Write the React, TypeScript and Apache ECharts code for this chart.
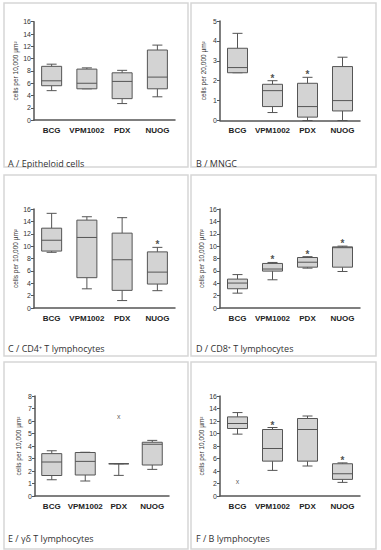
import React, { useEffect, useRef } from 'react';
import * as echarts from 'echarts';

const categories = ['BCG', 'VPM1002', 'PDX', 'NUOG'];

// each row: [min, Q1, median, Q3, max]
const epitheloid = [
  [4.8, 5.6, 6.4, 8.75, 9.1],
  [5.1, 5.1, 6.0, 8.3, 8.5],
  [2.7, 3.5, 6.3, 7.7, 8.1],
  [3.8, 5.1, 7.0, 11.4, 12.2],
];
const mngc = [
  [2.4, 2.4, 2.66, 3.63, 4.38],
  [0.4, 0.7, 1.5, 1.82, 2.0],
  [0, 0.17, 0.7, 1.87, 2.17],
  [0, 0.48, 1.0, 2.71, 3.18],
];
const cd4 = [
  [9.0, 9.2, 10.95, 12.9, 15.3],
  [3.1, 4.9, 11.4, 14.2, 14.75],
  [1.2, 2.85, 7.8, 12.1, 14.6],
  [2.8, 3.87, 5.8, 9.07, 9.8],
];
const cd8 = [
  [2.4, 3.11, 4.03, 4.67, 5.4],
  [4.56, 5.96, 6.3, 7.2, 7.36],
  [6.44, 6.6, 7.4, 8.16, 8.3],
  [5.9, 6.6, 9.75, 9.88, 10.0],
];
const gammaDelta = [
  [1.3, 1.64, 2.72, 3.39, 3.62],
  [1.2, 1.68, 2.77, 3.48, 3.5],
  [1.65, 2.58, 2.58, 2.58, 2.58],
  [2.13, 2.48, 4.14, 4.3, 4.45],
];
const bCells = [
  [9.9, 10.8, 11.6, 12.66, 13.35],
  [4.1, 5.58, 7.6, 10.64, 10.96],
  [4.8, 5.58, 10.64, 12.4, 12.8],
  [2.18, 2.66, 3.56, 5.16, 5.3],
];

const gammaDeltaOutliers: [string, number][] = [['PDX', 6.35]];
const bCellOutliers: [string, number][] = [['BCG', 2.3]];

const sigA: string[] = [];
const sigB = ['VPM1002', 'PDX'];
const sigC = ['NUOG'];
const sigD = ['VPM1002', 'PDX', 'NUOG'];
const sigE: string[] = [];
const sigF = ['VPM1002', 'NUOG'];

const titles = [
  'A / Epitheloid cells',
  'B / MNGC',
  'C / CD4\u207a T lymphocytes',
  'D / CD8\u207a T lymphocytes',
  'E / \u03b3\u03b4 T lymphocytes',
  'F / B lymphocytes',
];
const yNames = [
  'cells per 10,000 \u00b5m\u00b2',
  'cells per 20,000 \u00b5m\u00b2',
  'cells per 10,000 \u00b5m\u00b2',
  'cells per 10,000 \u00b5m\u00b2',
  'cells per 10,000 \u00b5m\u00b2',
  'cells per 10,000 \u00b5m\u00b2',
];
const yMax = [16, 5, 16, 16, 8, 16];
const yInterval = [2, 1, 2, 2, 1, 2];

const panelData = [epitheloid, mngc, cd4, cd8, gammaDelta, bCells];
const panelSig = [sigA, sigB, sigC, sigD, sigE, sigF];
const panelOutliers: [string, number][][] = [[], [], [], [], gammaDeltaOutliers, bCellOutliers];

// layout (pixels)
const panelRects = [
  [4, 3, 184, 164],
  [191, 3, 185, 164],
  [4, 175, 184, 181],
  [191, 175, 185, 181],
  [4, 362, 184, 187],
  [191, 362, 185, 187],
];
const grids = [
  { left: 34, top: 21.7, width: 141, height: 98.5 },
  { left: 220, top: 21, width: 140, height: 99.5 },
  { left: 34, top: 209, width: 141, height: 99 },
  { left: 220, top: 209, width: 140, height: 99 },
  { left: 35, top: 396, width: 134, height: 100 },
  { left: 220, top: 396, width: 140, height: 100 },
];
const titlePos = [
  [8, 163],
  [196, 163],
  [8, 348],
  [196, 348],
  [8, 538],
  [196, 538],
];

const STROKE = '#555555';
const FILL = '#d3d3d3';
const BOX_W = 20;
const FONT = 'Liberation Sans, Arial, sans-serif';

function renderBox(params: any, api: any) {
  const idx = api.value(0);
  const pts = [1, 2, 3, 4, 5].map((i) => api.coord([idx, api.value(i)]));
  const cx = pts[0][0];
  const lo = pts[0][1], q1 = pts[1][1], md = pts[2][1], q3 = pts[3][1], hi = pts[4][1];
  const half = BOX_W / 2;
  const cap = BOX_W / 4;
  const s = { stroke: STROKE, lineWidth: 1, fill: null };
  return {
    type: 'group',
    children: [
      { type: 'line', shape: { x1: cx, y1: q3, x2: cx, y2: hi }, style: s },
      { type: 'line', shape: { x1: cx, y1: q1, x2: cx, y2: lo }, style: s },
      { type: 'line', shape: { x1: cx - cap, y1: hi, x2: cx + cap, y2: hi }, style: s },
      { type: 'line', shape: { x1: cx - cap, y1: lo, x2: cx + cap, y2: lo }, style: s },
      {
        type: 'rect',
        shape: { x: cx - half, y: q3, width: BOX_W, height: q1 - q3 },
        style: { fill: FILL, stroke: STROKE, lineWidth: 1 },
      },
      { type: 'line', shape: { x1: cx - half, y1: md, x2: cx + half, y2: md }, style: s },
    ],
  };
}

export default function App() {
  const ref = useRef<HTMLDivElement>(null);
  useEffect(() => {
    if (!ref.current) return;
    const chart = echarts.init(ref.current, undefined, { renderer: 'svg' });

    const xAxis: any[] = [];
    const yAxis: any[] = [];
    const series: any[] = [];
    const graphic: any[] = [];

    panelData.forEach((data, p) => {
      xAxis.push({
        type: 'category',
        gridIndex: p,
        data: categories,
        axisLine: { lineStyle: { color: STROKE, width: 1.5 } },
        axisTick: { show: false },
        axisLabel: {
          interval: 0,
          color: '#222',
          fontSize: 8,
          fontWeight: 'bold',
          fontFamily: FONT,
          margin: 6,
        },
        splitLine: { show: false },
      });
      yAxis.push({
        type: 'value',
        gridIndex: p,
        min: 0,
        max: yMax[p],
        interval: yInterval[p],
        name: yNames[p],
        nameLocation: 'middle',
        nameRotate: 90,
        nameGap: 13,
        nameTextStyle: { fontSize: 6.5, color: '#333', fontFamily: FONT },
        axisLine: { show: true, lineStyle: { color: STROKE, width: 1.5 } },
        axisTick: { show: true, length: 3, lineStyle: { color: STROKE, width: 1 } },
        axisLabel: { color: '#333', fontSize: 7, margin: 3, fontFamily: FONT },
        splitLine: { show: false },
      });
      series.push({
        type: 'custom',
        xAxisIndex: p,
        yAxisIndex: p,
        renderItem: renderBox,
        encode: { x: 0, y: [1, 2, 3, 4, 5] },
        data: data.map((row, i) => [i, ...row]),
        z: 2,
      });
      const sig = panelSig[p];
      if (sig.length) {
        series.push({
          type: 'scatter',
          xAxisIndex: p,
          yAxisIndex: p,
          symbolSize: 1,
          itemStyle: { color: 'rgba(0,0,0,0)' },
          data: sig.map((c) => [categories.indexOf(c), data[categories.indexOf(c)][4]]),
          label: {
            show: true,
            formatter: '*',
            position: 'top',
            distance: -3,
            fontSize: 10,
            fontWeight: 'bold',
            color: '#222',
            fontFamily: FONT,
          },
          z: 3,
        });
      }
      const outl = panelOutliers[p];
      if (outl.length) {
        series.push({
          type: 'scatter',
          xAxisIndex: p,
          yAxisIndex: p,
          symbolSize: 1,
          itemStyle: { color: 'rgba(0,0,0,0)' },
          data: outl.map(([c, v]) => [categories.indexOf(c), v]),
          label: {
            show: true,
            formatter: 'x',
            position: 'inside',
            fontSize: 7,
            color: '#333',
            fontFamily: FONT,
          },
          z: 3,
        });
      }
      const r = panelRects[p];
      graphic.push({
        type: 'rect',
        shape: { x: r[0], y: r[1], width: r[2], height: r[3] },
        style: { fill: 'none', stroke: '#d6d6d6', lineWidth: 1.5 },
        silent: true,
        z: 0,
      });
      graphic.push({
        type: 'text',
        x: titlePos[p][0],
        y: titlePos[p][1],
        style: {
          text: titles[p],
          fontSize: 9,
          fontFamily: 'Open Sans, sans-serif',
          fill: '#333',
          textVerticalAlign: 'middle',
        },
        silent: true,
      });
    });

    chart.setOption({
      animation: false,
      backgroundColor: '#ffffff',
      grid: grids.map((g) => ({ ...g, containLabel: false })),
      xAxis,
      yAxis,
      series,
      graphic,
    });
    return () => chart.dispose();
  }, []);
  return (
    <div
      ref={ref}
      style={{ position: 'absolute', left: 0, top: 0, width: 381, height: 550, background: '#fff' }}
    />
  );
}
